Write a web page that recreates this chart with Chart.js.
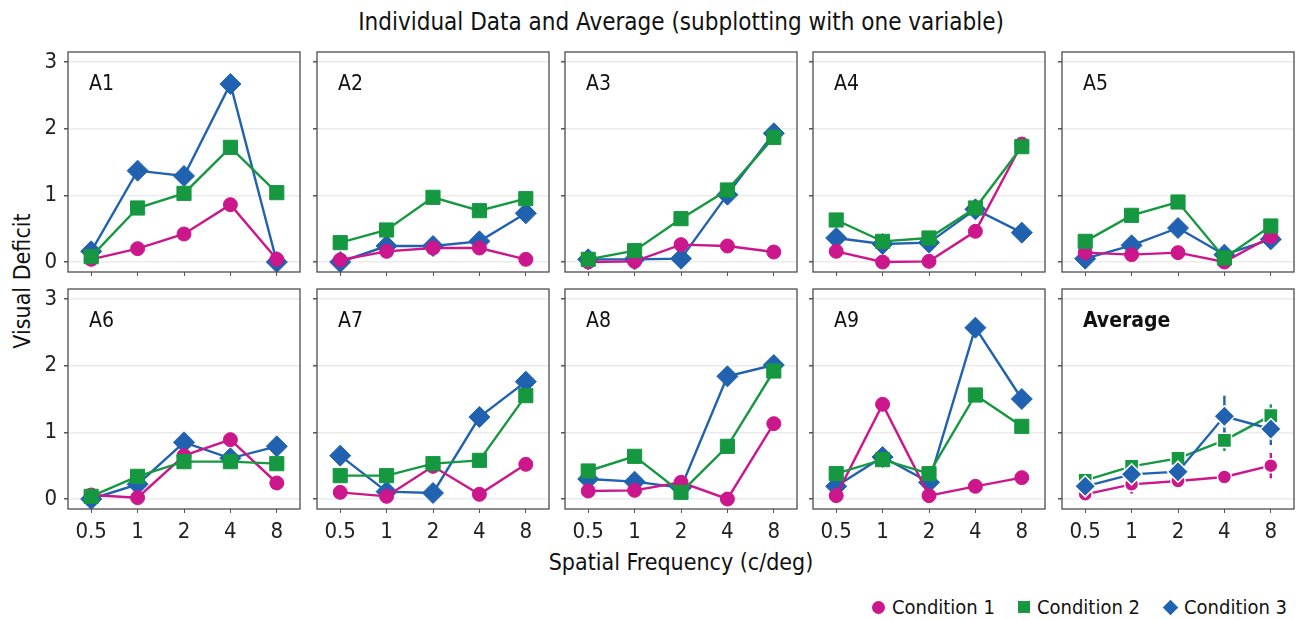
<!DOCTYPE html>
<html>
<head>
<meta charset="utf-8">
<title>Individual Data and Average</title>
<script src="https://cdn.jsdelivr.net/npm/chart.js@4.4.1/dist/chart.umd.min.js"></script>
<style>
  body { margin: 0; background: #fff; }
  #stage {
    position: relative; width: 1296px; height: 619px; overflow: hidden;
    font-family: "Liberation Sans Narrow", "DejaVu Sans Condensed", sans-serif; color: #111;
  }
  #stage canvas { position: absolute; }
  .txt { position: absolute; white-space: nowrap; line-height: 1; }
  #title { left: 681px; top: 10px; transform: translateX(-50%); font-size: 24px; }
  #xtitle { left: 681px; top: 551px; transform: translateX(-50%); font-size: 23px; }
  #ytitle { left: 22px; top: 281px; transform: translate(-50%, -50%) rotate(-90deg); font-size: 23px; }
  #legend {
    position: absolute; right: 9px; top: 596px; display: flex; align-items: center;
    font-size: 20px; white-space: nowrap; line-height: 22px;
  }
  #legend .item { display: flex; align-items: center; margin-right: 23px; }
  #legend .item:last-child { margin-right: 0; }
  .mk { display: inline-block; flex: none; margin-right: 7px; }
  .mk.c1 { width: 13px; height: 13px; border-radius: 50%; background: #cc168c; }
  .mk.c2 { width: 12px; height: 12px; background: #169841; }
  .mk.c3 { width: 11px; height: 11px; background: #2062b0; transform: rotate(45deg); margin: 0 8px 0 2px; }
</style>
</head>
<body>
<div id="stage">
  <div id="title" class="txt">Individual Data and Average (subplotting with one variable)</div>
  <div id="xtitle" class="txt">Spatial Frequency (c/deg)</div>
  <div id="ytitle" class="txt">Visual Deficit</div>
  <div id="legend">
    <div class="item"><span class="mk c1"></span>Condition 1</div>
    <div class="item"><span class="mk c2"></span>Condition 2</div>
    <div class="item"><span class="mk c3"></span>Condition 3</div>
  </div>
</div>
<script>
// x categories and y ticks shared by all panels
const freqLabels = ['0.5', '1', '2', '4', '8'];
const yTicks = [0, 1, 2, 3];
const panelNames = ['A1', 'A2', 'A3', 'A4', 'A5', 'A6', 'A7', 'A8', 'A9', 'Average'];

// one row per panel (A1..A9, then Average)
const cond1 = [
  [0.04, 0.20, 0.42, 0.86, 0.04],
  [0.03, 0.16, 0.21, 0.21, 0.04],
  [0.00, 0.01, 0.26, 0.24, 0.15],
  [0.16, 0.00, 0.01, 0.46, 1.77],
  [0.14, 0.11, 0.14, 0.00, 0.38],
  [0.06, 0.02, 0.65, 0.89, 0.24],
  [0.10, 0.04, 0.49, 0.07, 0.52],
  [0.12, 0.13, 0.25, 0.00, 1.13],
  [0.05, 1.42, 0.05, 0.19, 0.32],
  [0.07, 0.22, 0.27, 0.33, 0.50]
];
const cond2 = [
  [0.08, 0.81, 1.03, 1.72, 1.04],
  [0.29, 0.48, 0.97, 0.77, 0.95],
  [0.04, 0.17, 0.65, 1.08, 1.87],
  [0.63, 0.31, 0.36, 0.81, 1.73],
  [0.31, 0.70, 0.90, 0.06, 0.54],
  [0.04, 0.34, 0.56, 0.56, 0.53],
  [0.35, 0.35, 0.53, 0.58, 1.55],
  [0.42, 0.64, 0.10, 0.79, 1.92],
  [0.38, 0.59, 0.38, 1.56, 1.09],
  [0.28, 0.49, 0.61, 0.88, 1.25]
];
const cond3 = [
  [0.16, 1.37, 1.29, 2.67, 0.00],
  [0.00, 0.24, 0.24, 0.31, 0.73],
  [0.04, 0.04, 0.05, 1.01, 1.93],
  [0.36, 0.27, 0.29, 0.79, 0.44],
  [0.05, 0.25, 0.51, 0.11, 0.34],
  [0.00, 0.22, 0.85, 0.61, 0.79],
  [0.65, 0.11, 0.09, 1.23, 1.76],
  [0.30, 0.26, 0.17, 1.84, 2.01],
  [0.19, 0.63, 0.25, 2.57, 1.50],
  [0.19, 0.37, 0.41, 1.24, 1.05]
];
// standard errors for the Average panel
const avgErr1 = [0.03, 0.14, 0.06, 0.07, 0.19];
const avgErr2 = [0.06, 0.06, 0.09, 0.16, 0.17];
const avgErr3 = [0.05, 0.08, 0.08, 0.31, 0.24];

const FONT = '"Liberation Sans Narrow", "DejaVu Sans Condensed", sans-serif';
const COLORS = ['#cc168c', '#169841', '#2062b0'];

Chart.defaults.font.family = FONT;
Chart.defaults.color = '#222';

const boxLeft = [68, 317, 565, 813, 1062];
const boxTop = [52, 289];
const BOX_W = 232, BOX_H = 220, AXIS_W = 50, AXIS_H = 50, PAD = 10;

// frame around the plot area plus the panel name in its corner
const panelFrame = {
  id: 'panelFrame',
  afterDraw(chart, args, opts) {
    const { ctx, chartArea: a } = chart;
    ctx.save();
    ctx.strokeStyle = '#4d4d4d';
    ctx.lineWidth = 1.3;
    ctx.strokeRect(a.left, a.top, a.right - a.left, a.bottom - a.top);
    ctx.fillStyle = '#111';
    ctx.font = (opts.bold ? 'bold ' : '') + '21px ' + FONT;
    ctx.textBaseline = 'middle';
    ctx.fillText(opts.text, a.left + 21, a.top + 33);
    ctx.restore();
  }
};

// vertical error bars, drawn under the markers
const errorBars = {
  id: 'errorBars',
  beforeDatasetsDraw(chart) {
    const { ctx, scales: { y } } = chart;
    chart.data.datasets.forEach((ds, i) => {
      if (!ds.errors) return;
      const meta = chart.getDatasetMeta(i);
      ctx.save();
      ctx.strokeStyle = ds.borderColor;
      ctx.lineWidth = 2.4;
      ds.data.forEach((v, j) => {
        const px = meta.data[j].x;
        ctx.beginPath();
        ctx.moveTo(px, y.getPixelForValue(v - ds.errors[j]));
        ctx.lineTo(px, y.getPixelForValue(v + ds.errors[j]));
        ctx.stroke();
      });
      ctx.restore();
    });
  }
};

function makeDataset(label, values, color, style, radius, order, isAvg, errors) {
  return {
    label, data: values, order,
    borderColor: color, backgroundColor: color, borderWidth: 2.4,
    pointStyle: style, pointRadius: radius, pointHoverRadius: radius,
    pointBackgroundColor: color,
    pointBorderColor: isAvg ? '#ffffff' : color,
    pointBorderWidth: isAvg ? 1.5 : 1,
    errors: errors || null,
    tension: 0
  };
}

const stage = document.getElementById('stage');

panelNames.forEach((name, p) => {
  const row = Math.floor(p / 5), col = p % 5;
  const isAvg = name === 'Average';
  const canvas = document.createElement('canvas');
  const w = AXIS_W + BOX_W + PAD, h = PAD + BOX_H + AXIS_H;
  canvas.width = w; canvas.height = h;
  canvas.style.left = (boxLeft[col] - AXIS_W) + 'px';
  canvas.style.top = (boxTop[row] - PAD) + 'px';
  canvas.style.width = w + 'px'; canvas.style.height = h + 'px';
  stage.appendChild(canvas);

  // individual panels: condition 2 on top, condition 3 underneath;
  // average panel: condition 3 on top
  const ord = isAvg ? [2, 1, 0] : [1, 0, 2];

  new Chart(canvas, {
    type: 'line',
    data: {
      labels: freqLabels,
      datasets: [
        makeDataset('Condition 1', cond1[p], COLORS[0], 'circle', 7, ord[0], isAvg, isAvg ? avgErr1 : null),
        makeDataset('Condition 2', cond2[p], COLORS[1], 'rect', 10, ord[1], isAvg, isAvg ? avgErr2 : null),
        makeDataset('Condition 3', cond3[p], COLORS[2], 'rectRot', 10.5, ord[2], isAvg, isAvg ? avgErr3 : null)
      ]
    },
    options: {
      responsive: false,
      animation: false,
      devicePixelRatio: 1,
      layout: { autoPadding: false, padding: { top: PAD, right: PAD, left: 0, bottom: 0 } },
      plugins: {
        legend: { display: false },
        tooltip: { enabled: false },
        panelFrame: { text: name, bold: isAvg }
      },
      scales: {
        x: {
          type: 'category',
          offset: true,
          afterFit: s => { s.height = AXIS_H; s.paddingLeft = 0; s.paddingRight = 0; },
          grid: { drawOnChartArea: false, tickColor: '#555', tickLength: 4, lineWidth: 1 },
          border: { display: false },
          ticks: { display: row === 1, padding: 6, font: { size: 22 }, color: '#222', maxRotation: 0, autoSkip: false }
        },
        y: {
          min: -0.15,
          max: 3.15,
          afterBuildTicks: s => { s.ticks = yTicks.map(v => ({ value: v })); },
          // keep every panel's plot box the same size, labels or not
          afterFit: s => { s.width = AXIS_W; s.paddingTop = 0; s.paddingBottom = 0; },
          grid: { color: '#ebebeb', lineWidth: 1.5, tickColor: '#555', tickLength: 4 },
          border: { display: false },
          ticks: { display: col === 0, padding: 7, font: { size: 22 }, color: '#222' }
        }
      }
    },
    plugins: [errorBars, panelFrame]
  });
});
</script>
</body>
</html>
